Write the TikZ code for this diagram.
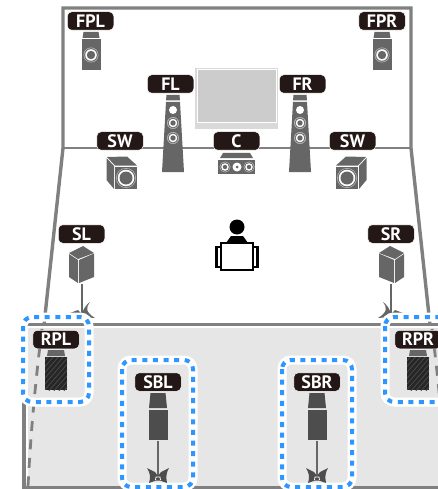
\documentclass[tikz,border=0pt]{standalone}
\usepackage{fontspec}
\setmainfont{PT Sans}
\definecolor{lab}{HTML}{231815}
\definecolor{wall}{HTML}{808080}
\definecolor{spk}{HTML}{666666}
\definecolor{spkd}{HTML}{4D4D4D}
\definecolor{floorc}{HTML}{E6E6E6}
\definecolor{tvc}{HTML}{CCCCCC}
\definecolor{tvo}{HTML}{D9D9D9}
\definecolor{dot}{HTML}{2E96FF}
\tikzset{
  lbl/.style={fill=lab,draw=white,line width=.5pt,rounded corners=4.5pt,minimum width=46.5pt,minimum height=18.5pt,inner sep=0pt,text=white,font=\bfseries\fontsize{18}{18}\selectfont},
  wallline/.style={draw=wall,line width=3.4pt},
  thinwall/.style={draw=wall,line width=1.5pt},
  dashwall/.style={draw=wall,line width=2.8pt,dash pattern=on 10pt off 8.5pt},
  halo/.style={draw=white,line width=9pt,rounded corners=9pt},
  dotbox/.style={draw=dot,line width=4pt,rounded corners=9pt,dash pattern=on 5pt off 5.6pt},
  ring/.pic={
    \fill[spk!45] (0,0) circle[radius=#1];
    \fill[spk] (0,0) circle[radius=#1-.7];
    \fill[white] (0,0) circle[radius=#1-1.7];
    \fill[spk] (0,0) circle[radius=#1-3.3];
  },
  presence/.pic={
    \fill[spk] (-7.5,-23) -- (7.5,-23) -- (8.5,-17) -- (-8.5,-17) -- cycle;
    \fill[spk] (-9.5,-15.5) rectangle (9.5,15);
    \pic at (0,0) {ring=7.5};
  },
  tower/.pic={
    \fill[spk] (-6.5,-38) -- (6.5,-38) -- (7,-32.5) -- (-7,-32.5) -- cycle;
    \fill[spk] (-7,-31) -- (7,-31) -- (11,39) -- (-11,39) -- cycle;
    \fill[white] (0,-23) circle[radius=4];
    \pic at (0,-10) {ring=6};
    \pic at (0,5) {ring=6};
  },
  sub/.pic={
    \fill[spk] (-19,-21) -- (1,-21.5) -- (11,-12.5) -- (-11,-12.5) -- cycle;
    \fill[spk] (-19.5,-20) -- (-12,-12) -- (-12,11) -- (-19.5,2) -- cycle;
    \fill[spk] (-11,-11.5) rectangle (11,11);
    \fill[spk!45] (0,0) circle[radius=10];
    \fill[spk] (0,0) circle[radius=9.3];
    \fill[white] (0,0) circle[radius=8.3];
    \fill[spk] (0,0) circle[radius=6.5];
  },
  surround/.pic={
    \fill[spk] (-13,-36) -- (1,-43) -- (12,-36) -- (-4,-30) -- cycle;
    \fill[spk] (-13,-35) -- (-4,-29) -- (-4,-6) -- (-13,-12) -- cycle;
    \fill[spk] (-3,-29) -- (12,-35.5) -- (12,-12) -- (-3,-6) -- cycle;
    \draw[spk,line width=1.5pt] (0,-5) -- (0,24);
    \fill[spk] (-12,24) -- (-4,21) -- (-1,24) -- (-1,28) -- cycle;
    \fill[spk] (8,13) .. controls (4,18) and (3,23) .. (13,29) -- (1,28) -- (1,22) .. controls (2,19) and (5,15) .. (8,13) -- cycle;
  },
  rearsp/.pic={
    \fill[spk] (-8,-8) -- (8,-8) -- (9,-2) -- (-9,-2) -- cycle;
    \begin{scope}
      \clip (-11,-1) rectangle (11,32);
      \fill[black!85] (-11,-1) rectangle (11,32);
      \foreach \k in {-32,-27,...,32}
        \draw[spkd,line width=.7pt] (\k-6,34) -- (\k+26,-3);
    \end{scope}
  },
  backsp/.pic={
    \fill[spkd] (-7.5,-47) -- (7.5,-47) -- (9,-32) -- (-9,-32) -- cycle;
    \fill[spkd] (-9.5,-30) rectangle (9.5,0);
    \draw[spk,line width=1.6pt] (0,1) -- (0,36);
    \fill[spkd] (-11,28) -- (-3,32) -- (0,36) -- (3,32) -- (11,28)
      .. controls (8,33) and (8,37) .. (9,43) -- (2,40.5) -- (-2,40.5) -- (-9,43)
      .. controls (-7,37) and (-8,33) .. (-11,28) -- cycle;
    \draw[white,line width=.8pt] (-2.5,40) -- (-2,37) -- (2,37) -- (2.5,40);
  }
}
\begin{document}
\begin{tikzpicture}[x=1pt,y=-1pt]
\useasboundingbox (0,0) rectangle (438,489);
\clip (0,0) rectangle (438,489);
% room
\draw[wallline,line cap=round] (44,325) -- (63,148) -- (63,8) -- (411,8) -- (411,148) -- (430,325);
\draw[thinwall] (63,148) -- (411,148);
% floor
\fill[floorc] (24,325) rectangle (445,487);
\draw[white,line width=1.5pt] (27,489) -- (27,327) -- (445,327);
\draw[wallline] (445,324.5) -- (24,324.5) -- (24,487.5) -- (445,487.5);
% rear dashes
\draw[dashwall] (42,329) .. controls (35,385) and (31,430) .. (28,486);
\draw[dashwall] (432,329) .. controls (439,385) and (443,430) .. (446,486);
% screen
\fill[tvo] (195,68) rectangle (278,129);
\fill[tvc] (196.5,70) rectangle (276.5,123);
\draw[white,line width=1pt] (197,70) rectangle (276,123);
% speakers
\pic at (91,55) {presence};
\pic at (382,55) {presence};
\pic at (173,133) {tower};
\pic at (300,133) {tower};
\pic at (126,178) {sub};
\pic[xscale=-1] at (347,178) {sub};
\fill[spk] (220,158) -- (223,153) -- (250,153) -- (253,158) -- cycle;
\fill[spk] (218,160) rectangle (255,174);
\pic at (225,167) {ring=5.5};
\pic at (249,167) {ring=5.5};
\fill[white] (237,167) circle[radius=4.5];
\fill[spk] (237,167) circle[radius=1.5];
\pic at (82,289) {surround};
\pic[xscale=-1] at (391,289) {surround};
% person
\fill[black] (237,227) circle[radius=7.5];
\fill[black] (226,243) -- (231,236) -- (243,236) -- (248,243) -- cycle;
\draw[black,line width=2.6pt,fill=white] (216.5,247) rectangle (222,267);
\draw[black,line width=2.6pt,fill=white] (252,247) rectangle (257.5,267);
\draw[black,line width=2.6pt,fill=white] (221,243) rectangle (253,270);
% dotted boxes
\foreach \a/\b/\c/\d in {23/317/89/402,385/317/460/402,122/360/193/487,282/360/352/487}{
  \draw[halo] (\a,\b) rectangle (\c,\d);
}
\foreach \a/\b/\c/\d in {23/317/89/402,385/317/460/402,122/360/193/487,282/360/352/487}{
  \draw[dotbox] (\a,\b) rectangle (\c,\d);
}
\pic at (56,358) {rearsp};
\pic at (418,358) {rearsp};
\pic at (158,440) {backsp};
\pic at (317,440) {backsp};
% labels
\node[lbl] (fpl) at (90.5,21) {FPL};
\node[lbl] (fpr) at (382,21) {FPR};
\node[lbl] (fl) at (170.5,84) {FL};
\node[lbl] (fr) at (302.5,84) {FR};
\node[lbl] (swl) at (120,141) {SW};
\node[lbl] (swr) at (352.5,141) {SW};
\node[lbl] (c) at (236.5,141) {C};
\node[lbl] (sl) at (81.5,234) {SL};
\node[lbl] (sr) at (391,234) {SR};
\node[lbl] (rpl) at (56,339.5) {RPL};
\node[lbl] (rpr) at (418,339.5) {RPR};
\node[lbl] (sbl) at (158,382) {SBL};
\node[lbl] (sbr) at (317,382) {SBR};
\end{tikzpicture}
\end{document}
